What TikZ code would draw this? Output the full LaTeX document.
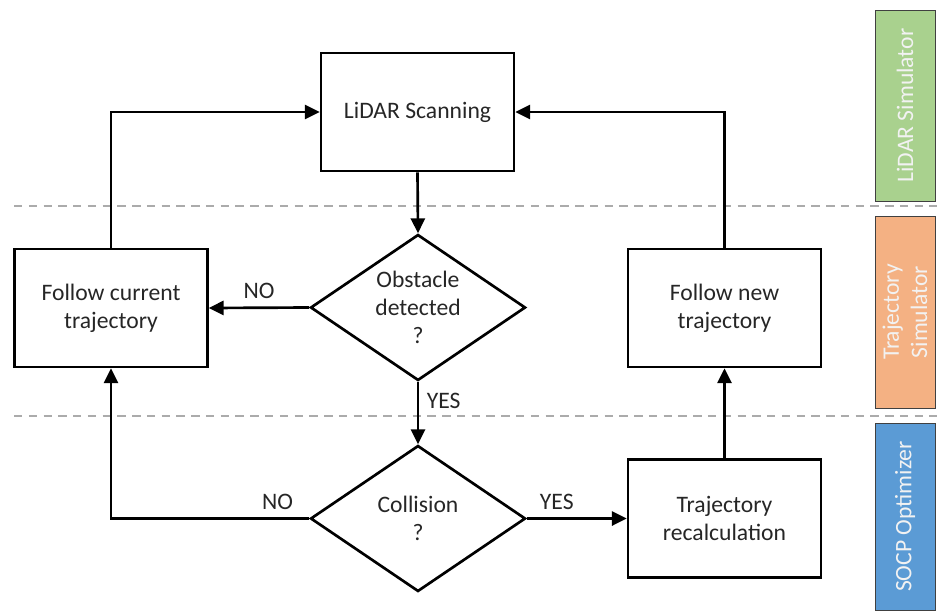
\documentclass[tikz,border=0pt]{standalone}
\usepackage{fontspec}
\setmainfont{Carlito}
\usetikzlibrary{shapes.geometric,arrows.meta}
\definecolor{lidargreen}{HTML}{A9D18E}
\definecolor{trajorange}{HTML}{F4B183}
\definecolor{socpblue}{HTML}{5B9BD5}
\def\px{0.025cm}

\tikzset{
	box/.style={draw, line width=1.9pt, text=black!85, align=center,
		minimum width=193*\px, minimum height=118*\px, inner sep=0pt},
	decision/.style={diamond, draw, line width=1.9pt, text=black!85, align=center,
		minimum width=215*\px, minimum height=146*\px, inner sep=0pt, aspect=1.47},
	flow/.style={line width=1.9pt, -{Triangle[length=10.5pt, width=10pt]}},
	lane/.style={draw=black!33, line width=1.3pt, dash pattern=on 6pt off 4.5pt},
	sidebar/.style={draw=black!75, line width=0.6pt, text=white!95!black, align=center,
		minimum width=191*\px, minimum height=60*\px, rotate=90, inner sep=0pt},
	lbl/.style={text=black!85}
}

\begin{document}
\begin{tikzpicture}[x=\px, y=-\px, font=\fontsize{16.8}{20}\selectfont]
		%%%%% START %%%%%
		\useasboundingbox (0, 0) rectangle (937, 612);
		
		% lanes
		\draw[lane] (14, 206) -- (937, 206);
		\draw[lane] (14, 416) -- (937, 416);
		
		% side bars
		\node[sidebar, fill=lidargreen, minimum width=191*\px] (lidarSim) at (905, 105.5) {LiDAR Simulator};
		\node[sidebar, fill=trajorange, minimum width=192*\px] (trajSim) at (905, 312) {Trajectory\\Simulator};
		\node[sidebar, fill=socpblue, minimum width=187*\px] (socpOpt) at (905, 516.5) {SOCP Optimizer};
		
		% steps
		\node[box] (scan) at (417.5, 112) {LiDAR Scanning};
		\node[box] (followCur) at (111, 308) {Follow current\\trajectory};
		\node[decision] (obstacle) at (418, 307.5) {Obstacle\\detected\\?};
		\node[box] (followNew) at (724.5, 308) {Follow new\\trajectory};
		\node[decision] (collision) at (418, 518.5) {Collision\\?};
		\node[box] (recalc) at (724.5, 518.5) {Trajectory\\recalculation};
		
		% connectors
		\draw[flow] (followCur.north) |- (scan.west);
		\draw[flow] (followNew.north) |- (scan.east);
		\draw[flow] (scan.south) -- (obstacle.north);
		\draw[flow] (obstacle.west) -- node[lbl, above=2pt] (noObst) {NO} (followCur.east);
		\draw[flow] (obstacle.south) -- node[lbl, right=2pt, pos=0.3] (yesObst) {YES} (collision.north);
		\draw[flow] (collision.west) -| node[lbl, above=2pt, pos=0.08] (noColl) {NO} (followCur.south);
		\draw[flow] (collision.east) -- node[lbl, above=2pt, pos=0.3] (yesColl) {YES} (recalc.west);
		\draw[flow] (recalc.north) -- (followNew.south);
		
		%%%%% END %%%%%
	\end{tikzpicture}
\end{document}
